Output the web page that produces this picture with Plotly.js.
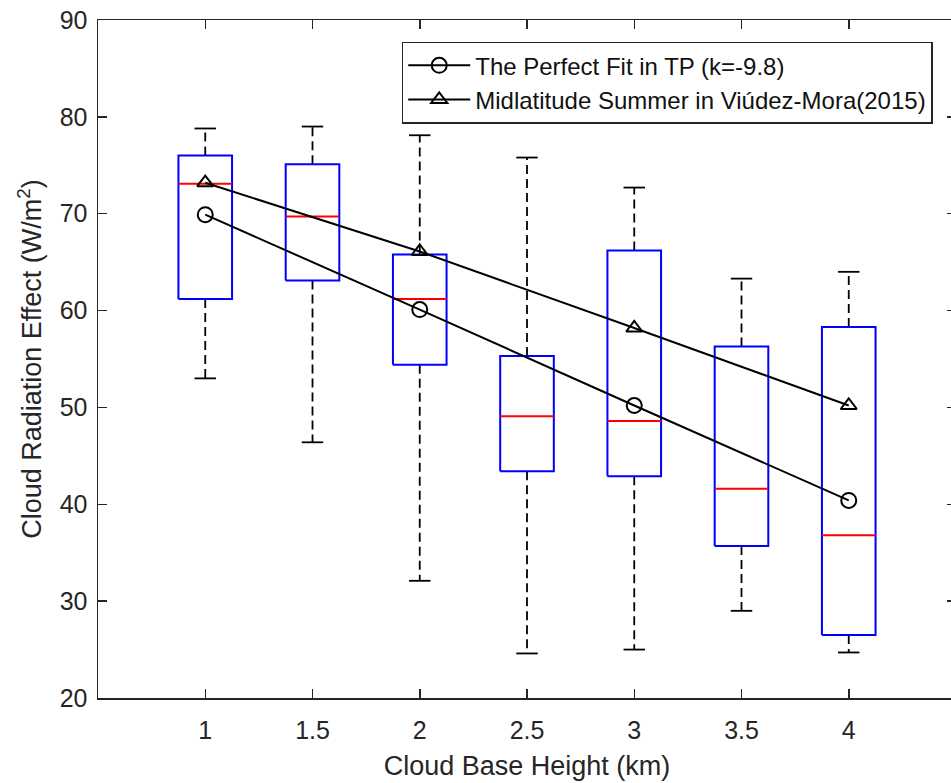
<!DOCTYPE html>
<html>
<head>
<meta charset="utf-8">
<script src="https://cdn.plot.ly/plotly-3.0.1.min.js"></script>
<style>
html,body{margin:0;padding:0;overflow:hidden;background:#fff;}
#chart{width:960px;height:783px;}
</style>
</head>
<body>
<div id="chart"></div>
<script>
// Box-plot statistics per cloud base height (km)
const heights = [1, 1.5, 2, 2.5, 3, 3.5, 4];
const upperWhisker = [78.8, 79.0, 78.1, 75.8, 72.7, 63.3, 64.0];
const q3 = [76.0, 75.1, 65.8, 55.3, 66.2, 56.3, 58.3];
const medians = [73.1, 69.7, 61.2, 49.1, 48.6, 41.6, 36.8];
const q1 = [61.2, 63.1, 54.4, 43.4, 42.9, 35.7, 26.5];
const lowerWhisker = [53.0, 46.4, 32.1, 24.6, 25.0, 29.0, 24.7];

// Reference curves
const lineX = [1, 2, 3, 4];
const perfectFit = [69.9, 60.1, 50.2, 40.4];
const midlatSummer = [73.2, 66.1, 58.2, 50.2];

const seriesNames = ['The Perfect Fit in TP (k=-9.8)', 'Midlatitude Summer in Viúdez-Mora(2015)'];
const tickLabels = ['1', '1.5', '2', '2.5', '3', '3.5', '4'];

const boxHalf = 0.125, capHalf = 0.05;
const boxX = [], boxY = [], medX = [], medY = [], whX = [], whY = [], capX = [], capY = [];
heights.forEach((h, i) => {
  boxX.push(h - boxHalf, h + boxHalf, h + boxHalf, h - boxHalf, h - boxHalf, null);
  boxY.push(q1[i], q1[i], q3[i], q3[i], q1[i], null);
  medX.push(h - boxHalf, h + boxHalf, null);
  medY.push(medians[i], medians[i], null);
  whX.push(h, h, null, h, h, null);
  whY.push(q3[i], upperWhisker[i], null, q1[i], lowerWhisker[i], null);
  capX.push(h - capHalf, h + capHalf, null, h - capHalf, h + capHalf, null);
  capY.push(upperWhisker[i], upperWhisker[i], null, lowerWhisker[i], lowerWhisker[i], null);
});

const traces = [
  {x: whX, y: whY, mode: 'lines', line: {color: '#000', width: 1.8, dash: '9px,5px'}, showlegend: false, hoverinfo: 'skip'},
  {x: capX, y: capY, mode: 'lines', line: {color: '#000', width: 1.8}, showlegend: false, hoverinfo: 'skip'},
  {x: boxX, y: boxY, mode: 'lines', line: {color: '#0000ff', width: 2}, showlegend: false, hoverinfo: 'skip'},
  {x: medX, y: medY, mode: 'lines', line: {color: '#ff0000', width: 2}, showlegend: false, hoverinfo: 'skip'},
  {x: lineX, y: perfectFit, name: seriesNames[0], mode: 'lines+markers',
   line: {color: '#000', width: 2}, marker: {symbol: 'circle-open', size: 15, color: '#000', line: {width: 2, color: '#000'}}},
  {x: lineX, y: midlatSummer, name: seriesNames[1], mode: 'lines+markers',
   line: {color: '#000', width: 2}, marker: {symbol: 'triangle-up-open', size: 14, color: '#000', line: {width: 2, color: '#000'}}}
];

const axisCommon = {
  showline: true, mirror: 'ticks', linecolor: '#262626', linewidth: 1.5,
  ticks: 'inside', ticklen: 9, tickwidth: 1.5, tickcolor: '#262626',
  showgrid: false, zeroline: false,
  tickfont: {family: 'Liberation Sans, Arial, sans-serif', size: 25, color: '#262626'}
};

const layout = {
  width: 960, height: 783,
  margin: {l: 98, r: 4, t: 20, b: 85},
  paper_bgcolor: '#fff', plot_bgcolor: '#fff',
  font: {family: 'Liberation Sans, Arial, sans-serif', color: '#262626'},
  xaxis: Object.assign({}, axisCommon, {
    range: [0.5, 4.5], tickvals: heights, ticktext: tickLabels, ticklabelstandoff: 9,
    title: {text: 'Cloud Base Height (km)', font: {size: 27, color: '#262626'}, standoff: 13}
  }),
  yaxis: Object.assign({}, axisCommon, {
    range: [20, 90], tickvals: [20, 30, 40, 50, 60, 70, 80, 90], ticklabelstandoff: 4,
    title: {text: 'Cloud Radiation Effect (W/m<sup>2</sup>)', font: {size: 27, color: '#262626'}, standoff: 10}
  }),
  legend: {
    x: 0.354, y: 0.968, xanchor: 'left', yanchor: 'top',
    bgcolor: '#fff', bordercolor: '#262626', borderwidth: 1.5,
    font: {family: 'Liberation Sans, Arial, sans-serif', size: 24, color: '#111'},
    itemwidth: 62, tracegroupgap: 0
  },
  showlegend: true
};

Plotly.newPlot('chart', traces, layout, {displayModeBar: false, staticPlot: true});
</script>
</body>
</html>
